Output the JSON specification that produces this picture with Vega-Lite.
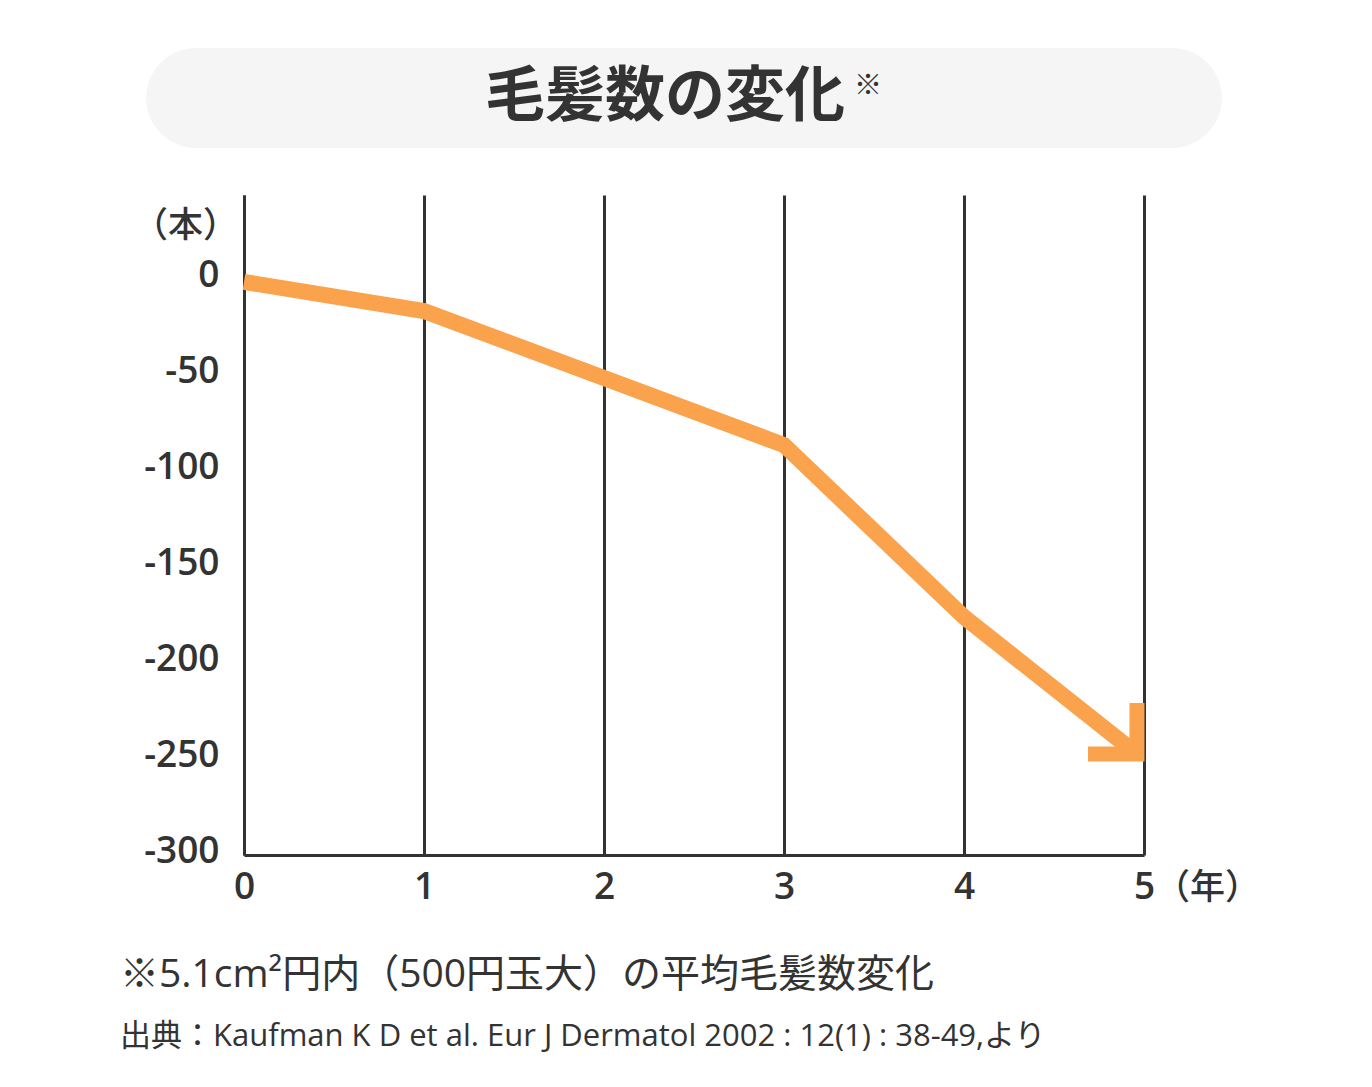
{
  "$schema": "https://vega.github.io/schema/vega-lite/v6.json",
  "width": 900,
  "height": 660,
  "autosize": {"type": "none"},
  "padding": {"left": 244, "top": 195, "right": 228, "bottom": 232},
  "background": "white",
  "config": {
    "view": {"stroke": null},
    "font": "Noto Sans CJK JP",
    "text": {"font": "Noto Sans CJK JP", "color": "#333333"}
  },
  "data": {"values": [{}]},
  "datasets": {
    "hair": [
      {"year": 0, "change": -1.5},
      {"year": 1, "change": -16.7},
      {"year": 2, "change": -51.6},
      {"year": 3, "change": -86.5},
      {"year": 4, "change": -176},
      {"year": 4.961, "change": -247.4}
    ],
    "arrow": [
      {"year": 4.689, "change": -247.4},
      {"year": 4.961, "change": -247.4},
      {"year": 4.961, "change": -220.8}
    ]
  },
  "encoding": {
    "x": {
      "type": "quantitative",
      "scale": {"domain": [0, 5], "nice": false, "zero": false},
      "axis": {
        "values": [0, 1, 2, 3, 4, 5],
        "title": "（年）",
        "titleFontSize": 35,
        "titleFontWeight": 500,
        "titleColor": "#333333",
        "titleAngle": 0,
        "titleX": 963,
        "titleY": 32,
        "titleAlign": "center",
        "titleBaseline": "middle",
        "grid": true,
        "gridColor": "#333333",
        "gridWidth": 3,
        "gridOpacity": 1,
        "domainColor": "#333333",
        "domainWidth": 3,
        "ticks": false,
        "labelFont": "Open Sans",
        "labelFontSize": 37,
        "labelFontWeight": 600,
        "labelColor": "#333333",
        "labelPadding": 14,
        "labelFlush": false
      }
    },
    "y": {
      "type": "quantitative",
      "scale": {"domain": [-300, 43.75], "nice": false, "zero": false},
      "axis": {
        "values": [0, -50, -100, -150, -200, -250, -300],
        "labelExpr": "datum.value + ''",
        "title": "（本）",
        "titleFontSize": 35,
        "titleFontWeight": 500,
        "titleColor": "#333333",
        "titleAngle": 0,
        "titleX": -59,
        "titleY": 30,
        "titleAlign": "center",
        "titleBaseline": "middle",
        "grid": false,
        "domainColor": "#333333",
        "domainWidth": 3,
        "ticks": false,
        "labelFont": "Open Sans",
        "labelFontSize": 37,
        "labelFontWeight": 600,
        "labelColor": "#333333",
        "labelPadding": 25,
        "labelOffset": -4,
        "labelFlush": false
      }
    }
  },
  "layer": [
    {
      "mark": {"type": "rect", "fill": "#f5f5f5", "cornerRadius": 50},
      "encoding": {
        "x": {"datum": -0.544},
        "x2": {"datum": 5.433},
        "y": {"datum": 120.3},
        "y2": {"datum": 68.2}
      }
    },
    {
      "mark": {"type": "text", "text": "毛髪数の変化", "fontSize": 60, "fontWeight": "bold", "align": "center", "baseline": "middle"},
      "encoding": {"x": {"datum": 2.339}, "y": {"datum": 94.3}}
    },
    {
      "mark": {"type": "text", "text": "※", "fontSize": 28, "align": "center", "baseline": "middle"},
      "encoding": {"x": {"datum": 3.467}, "y": {"datum": 100}}
    },
    {
      "data": {"name": "hair"},
      "mark": {"type": "line", "color": "#FAA24C", "strokeWidth": 16, "strokeCap": "butt", "strokeJoin": "miter"},
      "encoding": {"x": {"field": "year"}, "y": {"field": "change"}}
    },
    {
      "data": {"name": "arrow"},
      "mark": {"type": "line", "color": "#FAA24C", "strokeWidth": 15, "strokeCap": "butt", "strokeJoin": "miter"},
      "encoding": {"x": {"field": "year"}, "y": {"field": "change"}}
    },
    {
      "mark": {"type": "text", "text": "※5.1cm²円内（500円玉大）の平均毛髪数変化", "font": "Open Sans, Noto Sans CJK JP", "fontSize": 39, "fontWeight": 400, "align": "left", "baseline": "middle"},
      "encoding": {"x": {"datum": -0.689}, "y": {"datum": -362.5}}
    },
    {
      "mark": {"type": "text", "text": "出典：Kaufman K D et al. Eur J Dermatol 2002 : 12(1) : 38-49,より", "font": "Open Sans, Noto Sans CJK JP", "fontSize": 31, "fontWeight": 400, "align": "left", "baseline": "middle"},
      "encoding": {"x": {"datum": -0.689}, "y": {"datum": -394.8}}
    }
  ]
}
